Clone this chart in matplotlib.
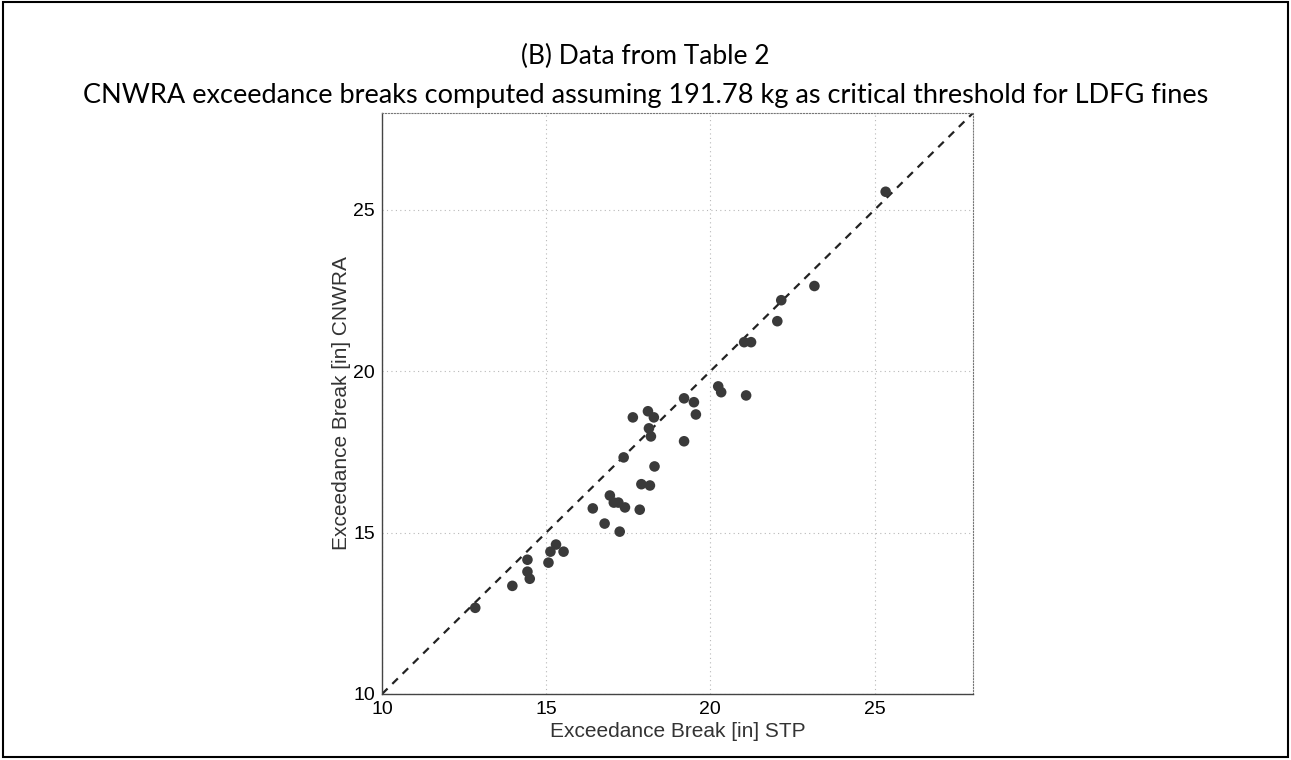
import matplotlib
matplotlib.use("Agg")
import matplotlib.pyplot as plt
from matplotlib.patches import Rectangle

# exceedance breaks
stp = [12.84, 13.97, 14.43, 14.43, 14.5, 15.07, 15.13, 15.3, 15.53,
       16.42, 16.78, 16.94, 17.06, 17.2, 17.24, 17.4, 17.85, 17.36,
       17.9, 18.16, 18.3, 17.64, 18.1, 18.28, 18.13, 18.19, 19.2,
       19.2, 19.5, 19.56, 20.24, 20.33, 21.09, 21.03, 21.24, 22.04,
       22.16, 23.17, 25.34]
cnwra = [12.67, 13.35, 14.16, 13.79, 13.57, 14.07, 14.41, 14.63, 14.41,
         15.75, 15.28, 16.15, 15.93, 15.93, 15.03, 15.78, 15.71, 17.33,
         16.5, 16.46, 17.05, 18.57, 18.76, 18.57, 18.23, 17.98, 17.83,
         19.16, 19.04, 18.66, 19.53, 19.35, 19.25, 20.9, 20.9, 21.55,
         22.2, 22.64, 25.56]
lims = [10, 28]
ticks = [10, 15, 20, 25]

fig = plt.figure(figsize=(12.91, 7.60), dpi=100)
ax = fig.add_axes([382/1291, 1 - 694/760, 591/1291, 581/760])

ax.plot(lims, lims, linestyle=(0, (3.5, 3)), color="#222222", lw=1.6, zorder=2)
ax.scatter(stp, cnwra, s=58, color="#3a3a3a", edgecolors="none", zorder=3)

ax.set_xlim(lims)
ax.set_ylim(lims)
ax.set_xticks(ticks)
ax.set_yticks(ticks)
ax.grid(True, linestyle=(0, (1, 3)), color="#b8b8b8", lw=0.8)
ax.tick_params(direction="in", length=0, labelsize=14, pad=5)
for lab in ax.get_xticklabels() + ax.get_yticklabels():
    lab.set_family("Liberation Sans")
for s in ["left", "bottom"]:
    ax.spines[s].set_color("#444444")
    ax.spines[s].set_linewidth(1.0)
for s in ["top", "right"]:
    ax.spines[s].set_color("#777777")
    ax.spines[s].set_linestyle(":")

ax.set_xlabel("Exceedance Break [in] STP", family="Liberation Sans",
              fontsize=15, color="#333333", labelpad=3)
ax.set_ylabel("Exceedance Break [in] CNWRA", family="Liberation Sans",
              fontsize=15, color="#333333", labelpad=2)

fig.text(0.5, 1 - 56/760, "(B) Data from Table 2", ha="center", va="center",
         family="Lato", fontsize=19)
fig.text(0.5, 1 - 95/760,
         "CNWRA exceedance breaks computed assuming 191.78 kg as critical threshold for LDFG fines",
         ha="center", va="center", family="Lato", fontsize=19.5)

# frame around the whole picture
fig.patches.append(Rectangle((3/1291, 3/760), 1285/1291, 755/760,
                             transform=fig.transFigure, fill=False,
                             edgecolor="black", lw=1.5))

fig.savefig("out.png", dpi=100)
